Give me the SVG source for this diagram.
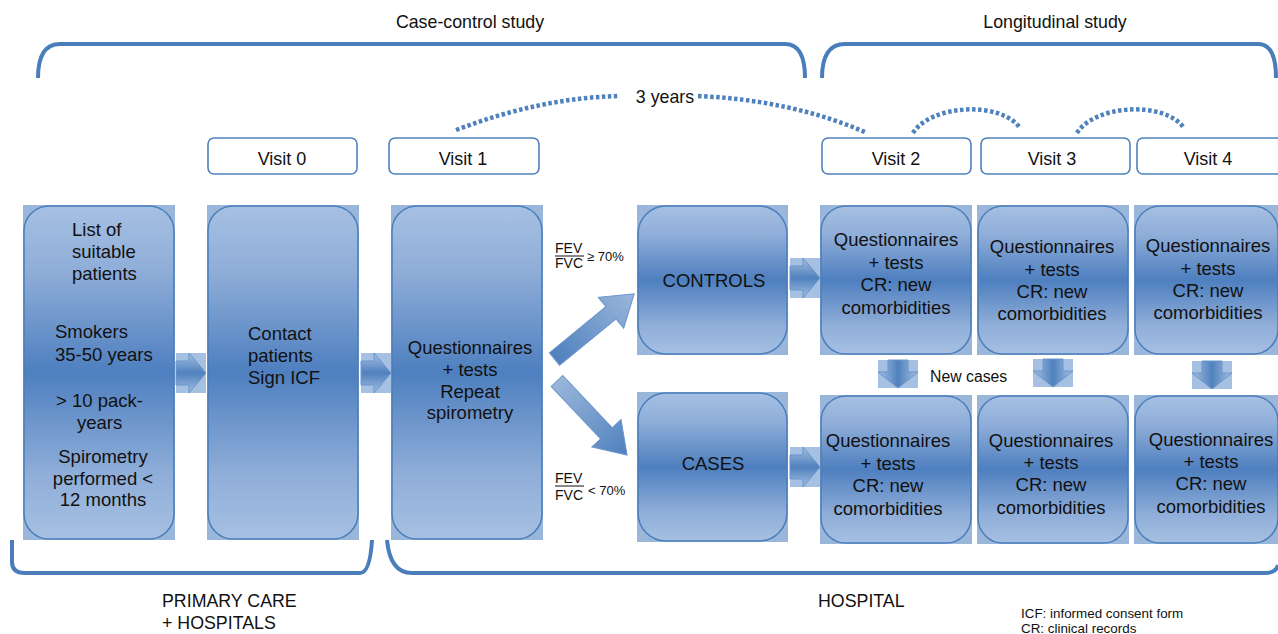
<svg xmlns="http://www.w3.org/2000/svg" xmlns:xlink="http://www.w3.org/1999/xlink" width="1278" height="634" viewBox="0 0 1278 634">
<style>
text{font-family:"Liberation Sans",Arial,sans-serif;fill:#111}
.bt{font-size:18.5px}
.vt{font-size:18px;text-anchor:middle}
.hd{font-size:17.8px}
.sm{font-size:13.4px}
.fv{font-size:14px}
.bg{fill:#9ab6db}
.rr{fill:url(#gBox);stroke:#4a7ebb;stroke-width:1.5}
.vb{fill:#fff;stroke:#4f81bd;stroke-width:1.6}
.br{fill:none;stroke:#4a7ebb;stroke-width:4;stroke-linecap:butt}
.dot{fill:none;stroke:#4f81bd;stroke-width:4.5;stroke-dasharray:3.5 2.5}
.c{text-anchor:middle}
</style>
<defs>
<linearGradient id="gBox" x1="0" y1="0" x2="0" y2="1">
<stop offset="0" stop-color="#a6c0e2"/>
<stop offset="0.2" stop-color="#8eadd8"/>
<stop offset="0.5" stop-color="#4e7fbf"/>
<stop offset="0.8" stop-color="#8eadd8"/>
<stop offset="1" stop-color="#a6c0e2"/>
</linearGradient>
<linearGradient id="gArr" x1="0" y1="0" x2="0" y2="1">
<stop offset="0" stop-color="#a6c0e2"/>
<stop offset="0.5" stop-color="#4f81bd"/>
<stop offset="1" stop-color="#a6c0e2"/>
</linearGradient>
<linearGradient id="gArrH" x1="0" y1="0" x2="1" y2="0">
<stop offset="0" stop-color="#a6c0e2"/>
<stop offset="0.5" stop-color="#4f81bd"/>
<stop offset="1" stop-color="#a6c0e2"/>
</linearGradient>
<linearGradient id="gDiag1" x1="0" y1="0" x2="1" y2="0">
<stop offset="0" stop-color="#4f81bd"/>
<stop offset="1" stop-color="#9ab6db"/>
</linearGradient>
<linearGradient id="gDiag2" x1="0" y1="0" x2="1" y2="0">
<stop offset="0" stop-color="#9ab6db"/>
<stop offset="1" stop-color="#4f81bd"/>
</linearGradient>
<g id="hArrow">
<rect x="0" y="0" width="30" height="40" fill="#a6c0e2"/>
<path d="M0,8 H13 V0 L30,20 L13,40 V32 H0 Z" fill="url(#gArr)" stroke="#6a95cc" stroke-width="1"/>
</g>
<g id="vArrow">
<rect x="0" y="0" width="40" height="28" fill="#a6c0e2"/>
<path d="M10,0 H30 V12 H40 L20,28 L0,12 H10 Z" fill="url(#gArrH)" stroke="#6a95cc" stroke-width="1"/>
</g>
</defs>

<g id="brackets">
<path class="br" d="M38,78 Q38,44 60,44 H785 Q805,44 805,78"/>
<path class="br" d="M822,78 Q822,44 845,44 H1258 Q1276,44 1276,78"/>
<path class="br" d="M12,540 V562 Q12,573 25,573 H360 Q370,573 372,540"/>
<path class="br" d="M387,540 Q390,573 412,573 H1265 Q1276,573 1278,565"/>
</g>

<g id="labels">
<text class="hd c" x="470" y="28">Case-control study</text>
<text class="hd c" x="1055" y="28">Longitudinal study</text>
<text class="hd" x="162" y="607">PRIMARY CARE</text>
<text class="hd" x="162" y="629">+ HOSPITALS</text>
<text class="hd" x="818" y="607">HOSPITAL</text>
<text class="sm" x="1021" y="618">ICF: informed consent form</text>
<text class="sm" x="1021" y="633">CR: clinical records</text>
</g>

<g id="connectors">
<path class="dot" d="M456,130 Q540,98 618,96"/>
<path class="dot" d="M698,96 Q790,100 865,132"/>
<path class="dot" d="M913,133 C930,105 1000,100 1020,128"/>
<path class="dot" d="M1077,133 C1094,105 1164,100 1184,128"/>
<text class="hd c" x="665" y="103">3 years</text>
<use xlink:href="#hArrow" x="176" y="353"/>
<use xlink:href="#hArrow" x="361" y="353"/>
<use xlink:href="#hArrow" x="790" y="258"/>
<use xlink:href="#hArrow" x="790" y="447"/>
<use xlink:href="#vArrow" x="878" y="360"/>
<use xlink:href="#vArrow" x="1033" y="359"/>
<use xlink:href="#vArrow" x="1192" y="361"/>
<text x="930" y="382" style="font-size:15.8px">New cases</text>
<path transform="translate(554.5,359) rotate(-39.3)" d="M0,-8 H73 V-20 L103,0 L73,20 V8 H0 Z" fill="url(#gDiag1)" stroke="#6a95cc" stroke-width="1"/>
<path transform="translate(557,381) rotate(46.6)" d="M0,-8 H72 V-20 L102,0 L72,20 V8 H0 Z" fill="url(#gDiag2)" stroke="#6a95cc" stroke-width="1"/>
<g id="fev-hi">
<text class="fv" x="555" y="253">FEV</text>
<line x1="555" y1="256" x2="584" y2="256" stroke="#111" stroke-width="1"/>
<text class="fv" x="555" y="268">FVC</text>
<text x="587" y="261" style="font-size:13px">≥ 70%</text>
</g>
<g id="fev-lo">
<text class="fv" x="555" y="483">FEV</text>
<line x1="555" y1="486" x2="584" y2="486" stroke="#111" stroke-width="1"/>
<text class="fv" x="555" y="500">FVC</text>
<text x="588" y="495" style="font-size:13px">&lt; 70%</text>
</g>
</g>

<g id="visit0"><rect class="vb" x="208" y="138" width="149" height="36" rx="6"/><text class="vt" x="282" y="165">Visit 0</text></g>
<g id="visit1"><rect class="vb" x="389" y="138" width="150" height="36" rx="6"/><text class="vt" x="463" y="165">Visit 1</text></g>
<g id="visit2"><rect class="vb" x="822" y="138" width="149" height="36" rx="6"/><text class="vt" x="896" y="165">Visit 2</text></g>
<g id="visit3"><rect class="vb" x="981" y="138" width="149" height="36" rx="6"/><text class="vt" x="1052" y="165">Visit 3</text></g>
<g id="visit4"><rect class="vb" x="1137" y="138" width="160" height="36" rx="6"/><text class="vt" x="1208" y="165">Visit 4</text></g>

<g id="box-list">
<rect class="bg" x="23" y="205" width="152" height="335"/>
<rect class="rr" x="24" y="206" width="150" height="333" rx="25"/>
<text class="bt" x="72" y="236">List of</text>
<text class="bt" x="72" y="258">suitable</text>
<text class="bt" x="72" y="280">patients</text>
<text class="bt" x="55" y="338">Smokers</text>
<text class="bt" x="55" y="361">35-50 years</text>
<text class="bt" x="56" y="407">&gt; 10 pack-</text>
<text class="bt" x="77" y="429">years</text>
<text class="bt c" x="103" y="463">Spirometry</text>
<text class="bt c" x="103" y="485">performed &lt;</text>
<text class="bt c" x="103" y="506">12 months</text>
</g>

<g id="box-contact">
<rect class="bg" x="207" y="205" width="152" height="335"/>
<rect class="rr" x="208" y="206" width="150" height="333" rx="25"/>
<text class="bt" x="248" y="340">Contact</text>
<text class="bt" x="248" y="362">patients</text>
<text class="bt" x="248" y="384">Sign ICF</text>
</g>

<g id="box-visit1">
<rect class="bg" x="391" y="205" width="152" height="335"/>
<rect class="rr" x="392" y="206" width="150" height="333" rx="25"/>
<text class="bt c" x="470" y="354">Questionnaires</text>
<text class="bt c" x="470" y="376">+ tests</text>
<text class="bt c" x="470" y="398">Repeat</text>
<text class="bt c" x="470" y="419">spirometry</text>
</g>

<g id="box-controls">
<rect class="bg" x="637" y="205" width="151" height="150"/>
<rect class="rr" x="638" y="206" width="149" height="148" rx="28"/>
<text class="bt c" x="714" y="287">CONTROLS</text>
</g>

<g id="box-cases">
<rect class="bg" x="637" y="392" width="151" height="150"/>
<rect class="rr" x="638" y="393" width="149" height="148" rx="28"/>
<text class="bt c" x="713" y="470">CASES</text>
</g>

<g id="box-v2-controls">
<rect class="bg" x="820" y="205" width="152" height="150"/>
<rect class="rr" x="821" y="206" width="150" height="148" rx="25"/>
<text class="bt c" x="896" y="246">Questionnaires</text>
<text class="bt c" x="896" y="269">+ tests</text>
<text class="bt c" x="896" y="291">CR: new</text>
<text class="bt c" x="896" y="314">comorbidities</text>
</g>
<g id="box-v3-controls">
<rect class="bg" x="977" y="205" width="152" height="150"/>
<rect class="rr" x="978" y="206" width="150" height="148" rx="25"/>
<text class="bt c" x="1052" y="253">Questionnaires</text>
<text class="bt c" x="1052" y="276">+ tests</text>
<text class="bt c" x="1052" y="298">CR: new</text>
<text class="bt c" x="1052" y="320">comorbidities</text>
</g>
<g id="box-v4-controls">
<rect class="bg" x="1134" y="205" width="146" height="150"/>
<rect class="rr" x="1135" y="206" width="143" height="148" rx="25"/>
<text class="bt c" x="1208" y="252">Questionnaires</text>
<text class="bt c" x="1208" y="275">+ tests</text>
<text class="bt c" x="1208" y="297">CR: new</text>
<text class="bt c" x="1208" y="319">comorbidities</text>
</g>

<g id="box-v2-cases">
<rect class="bg" x="820" y="395" width="152" height="149"/>
<rect class="rr" x="821" y="396" width="150" height="147" rx="25"/>
<text class="bt c" x="888" y="447">Questionnaires</text>
<text class="bt c" x="888" y="470">+ tests</text>
<text class="bt c" x="888" y="492">CR: new</text>
<text class="bt c" x="888" y="515">comorbidities</text>
</g>
<g id="box-v3-cases">
<rect class="bg" x="977" y="395" width="152" height="149"/>
<rect class="rr" x="978" y="396" width="150" height="147" rx="25"/>
<text class="bt c" x="1051" y="447">Questionnaires</text>
<text class="bt c" x="1051" y="469">+ tests</text>
<text class="bt c" x="1051" y="491">CR: new</text>
<text class="bt c" x="1051" y="514">comorbidities</text>
</g>
<g id="box-v4-cases">
<rect class="bg" x="1134" y="395" width="146" height="149"/>
<rect class="rr" x="1135" y="396" width="143" height="147" rx="25"/>
<text class="bt c" x="1211" y="446">Questionnaires</text>
<text class="bt c" x="1211" y="468">+ tests</text>
<text class="bt c" x="1211" y="490">CR: new</text>
<text class="bt c" x="1211" y="513">comorbidities</text>
</g>
</svg>
